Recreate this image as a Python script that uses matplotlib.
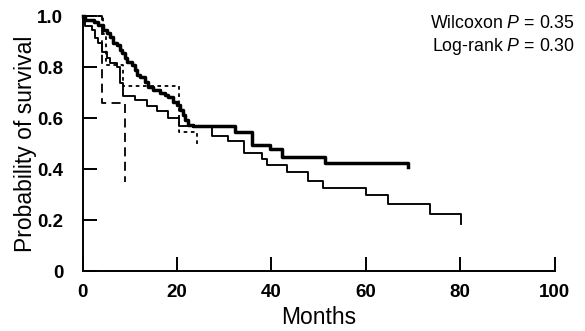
import numpy as np
import matplotlib
matplotlib.use("Agg")
import matplotlib.pyplot as plt

plt.rcParams['font.family'] = ['Liberation Sans', 'DejaVu Sans']
plt.rcParams['mathtext.fontset'] = 'custom'
plt.rcParams['mathtext.rm'] = 'Liberation Sans'
plt.rcParams['mathtext.it'] = 'Liberation Sans:italic'

# Kaplan-Meier curves (months, survival)
t_thick = [0, 0.4, 2.3, 3.3, 4.4, 5.1, 5.8, 6.5, 7.2, 7.9, 8.3, 9.0, 9.3, 10.4,
           11.1, 11.4, 12.1, 13.2, 13.9, 15.0, 16.4, 17.4, 18.1, 19.2, 19.9, 20.6,
           21.3, 21.7, 22.4, 23.4, 32.3, 35.9, 39.7, 42.2, 51.3, 68.9]
s_thick = [1.0, 0.985, 0.978, 0.965, 0.945, 0.932, 0.919, 0.893, 0.886, 0.867,
           0.854, 0.834, 0.821, 0.808, 0.788, 0.769, 0.762, 0.742, 0.723, 0.71,
           0.697, 0.69, 0.684, 0.664, 0.651, 0.631, 0.612, 0.592, 0.573, 0.567,
           0.547, 0.493, 0.478, 0.446, 0.425, 0.41]

t_thin = [0, 0.5, 1.9, 2.6, 3.3, 4.0, 5.1, 5.8, 7.2, 7.9, 8.6, 11.1, 13.6, 15.7,
          18.1, 20.3, 27.4, 30.8, 34.2, 38.0, 39.0, 43.3, 47.7, 50.9, 60.0, 64.7,
          73.6, 80.1]
s_thin = [1.0, 0.96, 0.945, 0.913, 0.894, 0.861, 0.835, 0.816, 0.80, 0.738, 0.685,
          0.672, 0.646, 0.627, 0.601, 0.568, 0.528, 0.509, 0.462, 0.439, 0.415,
          0.388, 0.353, 0.326, 0.298, 0.263, 0.224, 0.185]

t_dot = [0, 4.3, 5.0, 8.5, 20.5, 24.3]
s_dot = [1.0, 0.93, 0.81, 0.725, 0.545, 0.497]

t_dash = [0, 4.0, 9.0]
s_dash = [1.0, 0.661, 0.349]

xticks = [0, 20, 40, 60, 80, 100]
yticks = [0, 0.2, 0.4, 0.6, 0.8, 1.0]
ytick_labels = ['0', '0.2', '0.4', '0.6', '0.8', '1.0']

fig = plt.figure(figsize=(5.85, 3.31), dpi=100)
ax = fig.add_axes([0.1414, 0.181, 0.8066, 0.7705])

ax.step(t_dash, s_dash, where='post', color='black', lw=1.3, ls=(0, (5, 3)), clip_on=False)
ax.step(t_dot, s_dot, where='post', color='black', lw=1.3, ls=(0, (2, 2)), clip_on=False)
ax.step(t_thin, s_thin, where='post', color='black', lw=1.35, clip_on=False)
ax.step(t_thick, s_thick, where='post', color='black', lw=2.5, clip_on=False)

ax.set_xlim(0, 100)
ax.set_ylim(0, 1.0)
ax.spines['top'].set_visible(False)
ax.spines['right'].set_visible(False)
ax.spines['left'].set_linewidth(1.4)
ax.spines['bottom'].set_linewidth(1.4)

ax.set_xticks(xticks)
ax.set_yticks(yticks)
ax.set_yticklabels(ytick_labels)
ax.tick_params(direction='in', length=10, width=1.4, labelsize=13.5)
ax.tick_params(axis='x', pad=9)
ax.tick_params(axis='y', pad=14)
for lab in ax.get_xticklabels() + ax.get_yticklabels():
    lab.set_fontweight('bold')

ax.set_xlabel('Months', fontsize=16.5, labelpad=4)
ax.set_ylabel('Probability of survival', fontsize=16.5, labelpad=0)

fig.text(0.983, 0.955, 'Wilcoxon $P$ = 0.35', ha='right', va='top', fontsize=12.8)
fig.text(0.983, 0.89, 'Log-rank $P$ = 0.30', ha='right', va='top', fontsize=12.8)

fig.savefig('out.png', dpi=100)
